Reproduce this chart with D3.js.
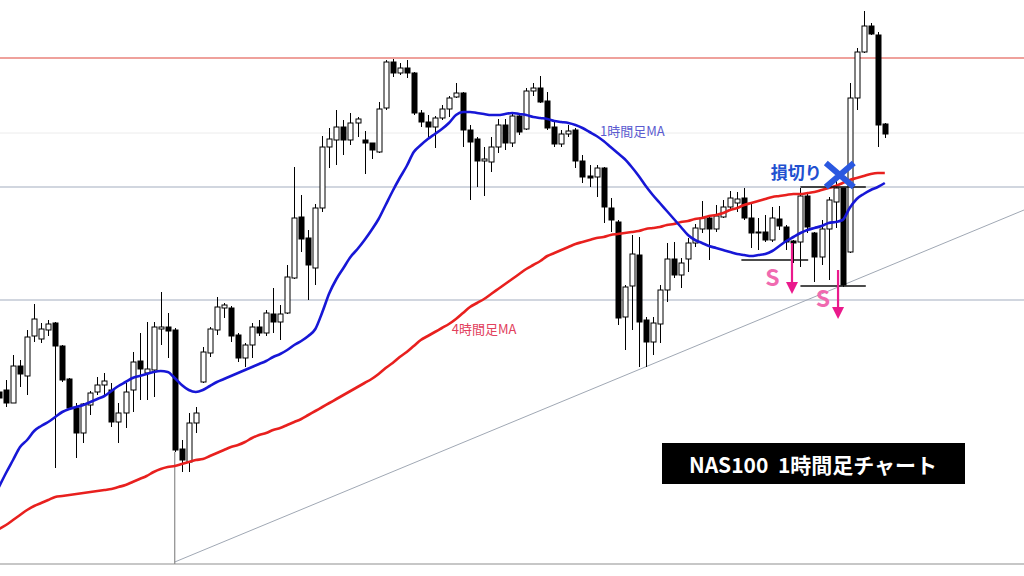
<!DOCTYPE html>
<html>
<head>
<meta charset="utf-8">
<script src="https://cdn.jsdelivr.net/npm/d3@7"></script>
<style>
    body { margin: 0; background: #fff; }
    svg { display: block; }
</style>
</head>
<body>
<svg id="chart" width="1024" height="576"></svg>
<script>
// NAS100 1h candles, first bar is partly off the left edge
const firstBar = -1;

const opens = [
    14816,14820,14794,14868,14848,14928,14922,14940,14954,14908,
    14842,14784,14734,14790,14816,14830,14820,14756,14774,14820,
    14878,14854,14860,14942,14946,14940,14702,14676,14754,14836,
    14894,14940,14984,14984,14930,14884,14910,14946,14934,14972,
    14956,14974,15044,15166,15124,15064,15184,15306,15320,15346,
    15320,15354,15320,15314,15296,15384,15476,15454,15464,15454,
    15374,15356,15346,15364,15382,15406,15414,15340,15322,15278,
    15276,15306,15350,15314,15368,15342,15418,15424,15398,15346,
    15312,15332,15340,15278,15248,15246,15264,15184,15156,14966,
    15028,15090,14960,14916,14952,15020,15082,15050,15082,15114,
    15142,15164,15142,15166,15186,15194,15204,15164,15136,15136,
    15120,15162,15146,15118,15116,15208,15134,15086,15142,15196,
    15224,15096,15404,15496,15548,15530,15352
];
const highs = [
    14830,14840,14890,14880,14940,14992,14954,14960,14956,14910,
    14844,14794,14794,14818,14846,14854,14834,14794,14834,14896,
    14934,14956,14956,15016,14974,14944,14720,14774,14786,14906,
    14946,15006,14994,14988,14934,14914,14954,14960,14980,15024,
    14990,15070,15266,15210,15140,15192,15328,15344,15380,15360,
    15374,15366,15338,15314,15396,15480,15482,15474,15480,15456,
    15380,15370,15368,15390,15408,15434,15416,15350,15326,15306,
    15326,15362,15362,15374,15374,15424,15434,15448,15416,15356,
    15340,15350,15344,15290,15270,15270,15266,15204,15160,15030,
    15130,15126,14966,14966,15030,15114,15116,15084,15124,15152,
    15198,15166,15190,15200,15218,15216,15224,15194,15164,15170,
    15186,15188,15150,15120,15224,15214,15136,15160,15206,15260,
    15224,15434,15504,15578,15554,15536,15354
];
const lows = [
    14796,14786,14794,14826,14810,14916,14914,14928,14664,14836,
    14780,14684,14714,14770,14810,14806,14746,14714,14744,14776,
    14800,14800,14806,14910,14884,14696,14656,14656,14734,14834,
    14886,14930,14964,14916,14876,14866,14884,14928,14928,14934,
    14920,14972,15042,15096,15000,15030,15176,15264,15270,15290,
    15310,15326,15252,15282,15294,15380,15446,15450,15444,15370,
    15346,15326,15304,15360,15366,15404,15306,15200,15226,15208,
    15256,15294,15300,15306,15330,15340,15408,15394,15340,15306,
    15306,15326,15264,15234,15226,15206,15154,15136,14950,14900,
    14940,14866,14866,14890,14914,14996,15044,15024,15056,15106,
    15134,15080,15136,15164,15180,15176,15160,15104,15100,15116,
    15116,15140,15100,15074,15066,15134,15036,15070,15040,15144,
    15026,15094,15380,15494,15530,15306,15324
];
const closes = [
    14804,14794,14868,14852,14926,14962,14942,14952,14908,14840,
    14784,14734,14792,14814,14830,14838,14756,14774,14816,14876,
    14862,14862,14946,14946,14938,14700,14680,14754,14774,14896,
    14942,14986,14990,14928,14884,14910,14946,14934,14974,14956,
    14972,15046,15164,15122,15070,15184,15306,15322,15346,15320,
    15354,15362,15314,15300,15382,15476,15454,15464,15454,15374,
    15356,15346,15364,15382,15404,15414,15340,15316,15278,15282,
    15306,15350,15314,15368,15336,15418,15424,15396,15344,15312,
    15332,15338,15278,15246,15244,15264,15186,15160,14964,15026,
    15092,14956,14916,14954,15020,15082,15050,15074,15114,15144,
    15164,15142,15168,15186,15204,15202,15164,15134,15134,15120,
    15164,15148,15116,15114,15208,15146,15086,15142,15200,15224,
    15030,15404,15496,15548,15532,15350,15332
];

// moving averages, one value per bar
const ma1h = [
    14626,14654,14680,14706,14720,14738,14748,14756,14766,14776,
    14782,14786,14790,14796,14802,14808,14818,14828,14836,14844,
    14848,14852,14856,14858,14856,14844,14830,14820,14816,14820,
    14828,14836,14842,14848,14854,14860,14866,14872,14878,14886,
    14892,14900,14910,14918,14928,14942,14976,15014,15042,15064,
    15086,15102,15120,15140,15162,15190,15218,15244,15268,15296,
    15310,15322,15332,15342,15354,15370,15376,15376,15374,15372,
    15370,15370,15372,15374,15372,15370,15366,15364,15362,15358,
    15356,15354,15350,15344,15336,15328,15318,15306,15294,15282,
    15266,15248,15228,15210,15194,15178,15162,15146,15130,15120,
    15114,15108,15104,15100,15096,15092,15090,15088,15090,15092,
    15098,15108,15118,15126,15134,15140,15144,15148,15154,15156,
    15160,15184,15202,15212,15220,15226,15234
];
const ma4h = [
    14542,14550,14560,14570,14580,14588,14594,14600,14606,14608,
    14610,14612,14614,14616,14618,14620,14622,14626,14630,14636,
    14642,14648,14656,14662,14666,14668,14672,14676,14680,14682,
    14688,14694,14700,14706,14710,14716,14724,14730,14734,14740,
    14744,14750,14756,14762,14770,14778,14786,14794,14802,14810,
    14818,14826,14834,14842,14852,14864,14874,14886,14896,14908,
    14920,14928,14936,14944,14952,14962,14974,14986,14994,15002,
    15012,15022,15032,15042,15052,15062,15070,15078,15088,15094,
    15100,15106,15112,15116,15120,15124,15126,15130,15132,15134,
    15136,15138,15142,15144,15146,15150,15152,15156,15158,15162,
    15164,15168,15170,15174,15180,15184,15190,15194,15198,15202,
    15206,15208,15210,15212,15212,15214,15216,15220,15224,15228,
    15234,15240,15244,15248,15252,15254,15254
];

// horizontal levels drawn on the chart
const resistance = 15484;
const levelsGrey = [15226, 15000];
const levelFaint = 15334;
const chartBottom = 14472;

// trendline anchor points (bar, price)
const trendStart = [24, 14476];
const trendEnd = [144.8, 15180];

// short black lines at the sell setups: [barFrom, barTo, price]
const setupLines = [[104.6, 114.1, 15080], [113, 122.3, 15028], [113, 122.3, 15226]];
// sell arrows: [bar, priceFrom, priceTo]
const sellArrows = [[111.8, 15114, 15012], [118.35, 15060, 14962]];
const sellLabels = [[109, 15040], [116.2, 14998]];
const stopMark = [118.6, 15250];
const stopLabel = [112.4, 15252];

const labelMa1h = [84.5, 15336];
const labelMa4h = [63.4, 14940];
const titleText = "NAS100\u00a0\u00a01時間足チャート";

const width = 1024, height = 576;
const svg = d3.select("#chart");

const x = d3.scaleLinear().domain([-0.853, 144.8]).range([0, width]);
const y = d3.scaleLinear().domain([14448, 15600]).range([height, 0]);

const bars = opens.map((o, k) => ({
    bar: firstBar + k, o: o, h: highs[k], l: lows[k], c: closes[k]
}));

// levels
svg.append("line")
    .attr("x1", 0).attr("x2", width)
    .attr("y1", y(levelFaint)).attr("y2", y(levelFaint))
    .style("stroke", "#ececec").style("stroke-width", 1);

svg.selectAll("line.grey").data(levelsGrey).enter().append("line")
    .attr("class", "grey")
    .attr("x1", 0).attr("x2", width)
    .attr("y1", d => y(d)).attr("y2", d => y(d))
    .style("stroke", "#a3adbf").style("stroke-width", 1.2);

svg.append("line")
    .attr("x1", 0).attr("x2", width)
    .attr("y1", y(resistance)).attr("y2", y(resistance))
    .style("stroke", "#e0453a").style("stroke-width", 1.2);

svg.append("line")
    .attr("x1", 0).attr("x2", width)
    .attr("y1", y(chartBottom)).attr("y2", y(chartBottom))
    .style("stroke", "#b4b4b4").style("stroke-width", 1.5);

// trendline and its vertical anchor
svg.append("line")
    .attr("x1", x(trendStart[0])).attr("y1", y(trendStart[1]))
    .attr("x2", x(trendEnd[0])).attr("y2", y(trendEnd[1]))
    .style("stroke", "#a0a8b4").style("stroke-width", 1);

svg.append("line")
    .attr("x1", x(trendStart[0])).attr("x2", x(trendStart[0]))
    .attr("y1", y(lows[trendStart[0] - firstBar])).attr("y2", y(chartBottom))
    .style("stroke", "#8c8c8c").style("stroke-width", 1.2);

// candles
const g = svg.append("g");
const bodyW = 5;

g.selectAll("line.wick").data(bars).enter().append("line")
    .attr("class", "wick")
    .attr("x1", d => Math.round(x(d.bar)) + 0.5)
    .attr("x2", d => Math.round(x(d.bar)) + 0.5)
    .attr("y1", d => y(d.h)).attr("y2", d => y(d.l))
    .style("stroke", "#000").style("stroke-width", 1);

g.selectAll("rect.body").data(bars).enter().append("rect")
    .attr("class", "body")
    .attr("x", d => Math.round(x(d.bar)) + 0.5 - bodyW / 2)
    .attr("y", d => y(Math.max(d.o, d.c)))
    .attr("width", bodyW)
    .attr("height", d => Math.max(1, Math.abs(y(d.o) - y(d.c))))
    .style("fill", d => d.c >= d.o ? "#fff" : "#000")
    .style("stroke", "#000").style("stroke-width", 1);

// moving averages
const maLine = d3.line()
    .x((d, k) => x(firstBar + k))
    .y(d => y(d))
    .curve(d3.curveMonotoneX);

svg.append("path").datum(ma4h)
    .attr("d", maLine)
    .style("fill", "none").style("stroke", "#e8201e").style("stroke-width", 2.6);

svg.append("path").datum(ma1h)
    .attr("d", maLine)
    .style("fill", "none").style("stroke", "#1717d6").style("stroke-width", 2.6);

svg.append("text")
    .attr("x", x(labelMa1h[0])).attr("y", y(labelMa1h[1]))
    .attr("dominant-baseline", "middle")
    .style("font-family", "'Noto Sans CJK JP', sans-serif")
    .style("font-size", "13px").style("fill", "#5b5bd0")
    .text("1時間足MA");

svg.append("text")
    .attr("x", x(labelMa4h[0])).attr("y", y(labelMa4h[1]))
    .attr("dominant-baseline", "middle")
    .style("font-family", "'Noto Sans CJK JP', sans-serif")
    .style("font-size", "13px").style("fill", "#e2405c")
    .text("4時間足MA");

// sell setups
svg.selectAll("line.setup").data(setupLines).enter().append("line")
    .attr("class", "setup")
    .attr("x1", d => x(d[0])).attr("x2", d => x(d[1]))
    .attr("y1", d => y(d[2])).attr("y2", d => y(d[2]))
    .style("stroke", "#111").style("stroke-width", 1.5);

const arrowColor = "#ea1a8c";
sellArrows.forEach(a => {
    const ax = x(a[0]), y0 = y(a[1]), y1 = y(a[2]);
    svg.append("line")
        .attr("x1", ax).attr("x2", ax).attr("y1", y0).attr("y2", y1 - 10)
        .style("stroke", arrowColor).style("stroke-width", 2.2);
    svg.append("path")
        .attr("d", `M${ax - 6},${y1 - 12} L${ax + 6},${y1 - 12} L${ax},${y1} Z`)
        .style("fill", arrowColor);
});

svg.selectAll("text.sell").data(sellLabels).enter().append("text")
    .attr("class", "sell")
    .attr("x", d => x(d[0])).attr("y", d => y(d[1]))
    .attr("text-anchor", "middle").attr("dominant-baseline", "middle")
    .style("font-family", "'Noto Sans CJK JP', sans-serif")
    .style("font-weight", 700).style("font-size", "23px").style("fill", "#f06ab0")
    .text("S");

// stop loss mark
const sx = x(stopMark[0]), sy = y(stopMark[1]), rx = 14, ry = 12;
svg.append("path")
    .attr("d", `M${sx - rx},${sy - ry} L${sx + rx},${sy + ry} M${sx + rx},${sy - ry} L${sx - rx},${sy + ry}`)
    .style("stroke", "#2a58e0").style("stroke-width", 6).style("stroke-linecap", "butt");

svg.append("text")
    .attr("x", x(stopLabel[0])).attr("y", y(stopLabel[1]))
    .attr("text-anchor", "middle").attr("dominant-baseline", "middle")
    .style("font-family", "'Noto Sans CJK JP', sans-serif")
    .style("font-weight", 700).style("font-size", "17px").style("fill", "#2150d0")
    .style("paint-order", "stroke").style("stroke", "#fff").style("stroke-width", 3)
    .text("損切り");

// title box
svg.append("rect")
    .attr("x", 662).attr("y", 443).attr("width", 303).attr("height", 41)
    .style("fill", "#000");

svg.append("text")
    .attr("x", 813).attr("y", 464)
    .attr("text-anchor", "middle").attr("dominant-baseline", "central")
    .style("font-family", "'Noto Sans CJK JP', sans-serif")
    .style("font-weight", 700).style("font-size", "21px").style("fill", "#fff")
    .text(titleText);
</script>
</body>
</html>
